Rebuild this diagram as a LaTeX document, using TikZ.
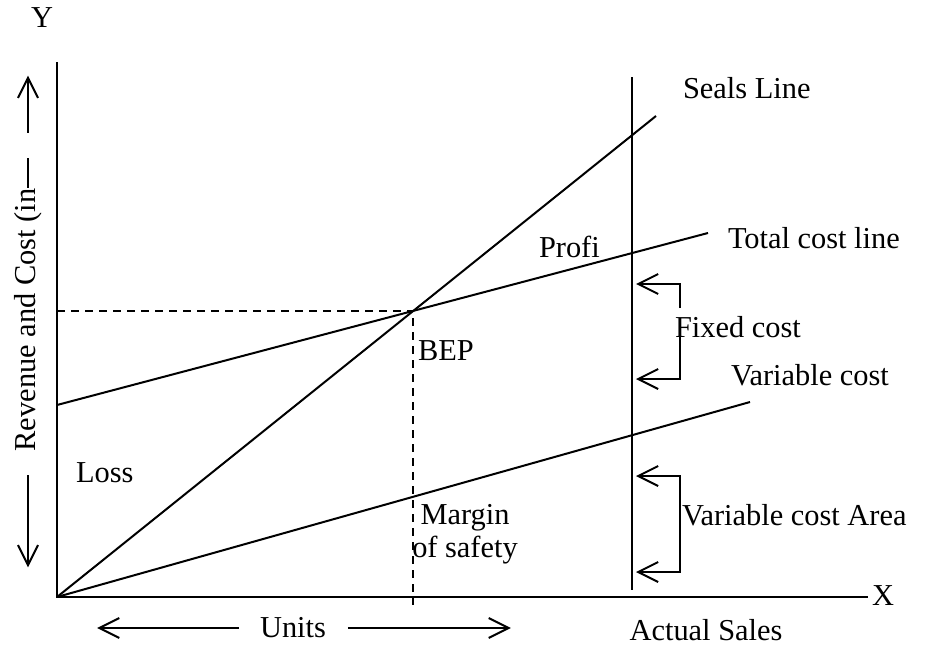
\documentclass[tikz,border=0pt]{standalone}
\usepackage{fontspec}
\setmainfont{Liberation Serif}
\usetikzlibrary{arrows.meta}
\begin{document}
\begin{tikzpicture}[x=0.5pt, y=-0.5pt,
    line width=1pt,
    every node/.style={font=\fontsize{15.2}{16.5}\selectfont, inner sep=0pt},
    lbl/.style={anchor=base west},
    arr/.style={-{Straight Barb[length=10pt, width=10pt]}},
    guide/.style={dash pattern=on 4pt off 3pt}]
\useasboundingbox (0,0) rectangle (926,648);

% axes
\coordinate (o) at (57,597);
\coordinate (ytop) at (57,62);
\coordinate (xend) at (868,597);
\draw (ytop) -- (o) -- (xend);
\node[anchor=base] (ylab) at (42,27) {Y};
\node[anchor=base] (xlab) at (883,605) {X};

% sales, total cost and variable cost lines
\coordinate (s1) at (656,116);
\coordinate (tc0) at (57,405);
\coordinate (tc1) at (708,233);
\coordinate (vc1) at (750,402);
\draw (o) -- (s1);
\draw (tc0) -- (tc1);
\draw (o) -- (vc1);

% break even point
\coordinate (bep) at (intersection of o--s1 and tc0--tc1);
\coordinate (bepfoot) at (415,605);
\draw[guide] (o |- bep) -- (bep) -- (bep |- bepfoot);

% actual sales
\coordinate (as0) at (632,77);
\coordinate (as1) at (632,590);
\draw (as0) -- (as1);

% fixed cost bracket
\coordinate (fc0) at (680,284);
\coordinate (fc1) at (680,379);
\draw[arr, shorten >=2pt] (fc0) ++(0,24) -- (fc0) -- (fc0 -| as0);
\draw[arr, shorten >=2pt] (fc1) ++(0,-42) -- (fc1) -- (fc1 -| as0);

% variable cost area bracket
\coordinate (va0) at (680,476);
\coordinate (va1) at (680,572);
\draw[{Straight Barb[length=10pt, width=10pt]}-{Straight Barb[length=10pt, width=10pt]},
      shorten <=2pt, shorten >=2pt] (va0 -| as0) -- (va0) -- (va1) -- (va1 -| as0);

% y label
\node[rotate=90] (ylabel) at (28,320) {Revenue and Cost (in};
\draw (ylabel.east) -- ++(0,-30);
\draw[arr] (ylabel.east) ++(0,-55) -- ++(0,-57);
\draw[arr] (ylabel.west) ++(0,23) -- ++(0,92);

% x label
\node (units) at (293,628) {Units};
\draw[arr] (units.west) ++(-20,0) -- ++(-142,0);
\draw[arr] (units.east) ++(21,0) -- ++(163,0);
\node[anchor=base] (actual) at (706,640) {Actual Sales};

% labels
\node[lbl] (seals) at (682,98) {Seals Line};
\node[lbl] (total) at (727,248) {Total cost line};
\node[lbl] (profit) at (538,257) {Profi};
\node[lbl] (fixed) at (674,337) {Fixed cost};
\node[lbl] (beplab) at (417,360) {BEP};
\node[lbl] (var) at (730,385) {Variable cost};
\node[lbl] (loss) at (75,482) {Loss};
\node[lbl] (vararea) at (681,525) {Variable cost Area};
\node[align=center] (margin) at (465,534) {Margin\\of safety};

\end{tikzpicture}
\end{document}
